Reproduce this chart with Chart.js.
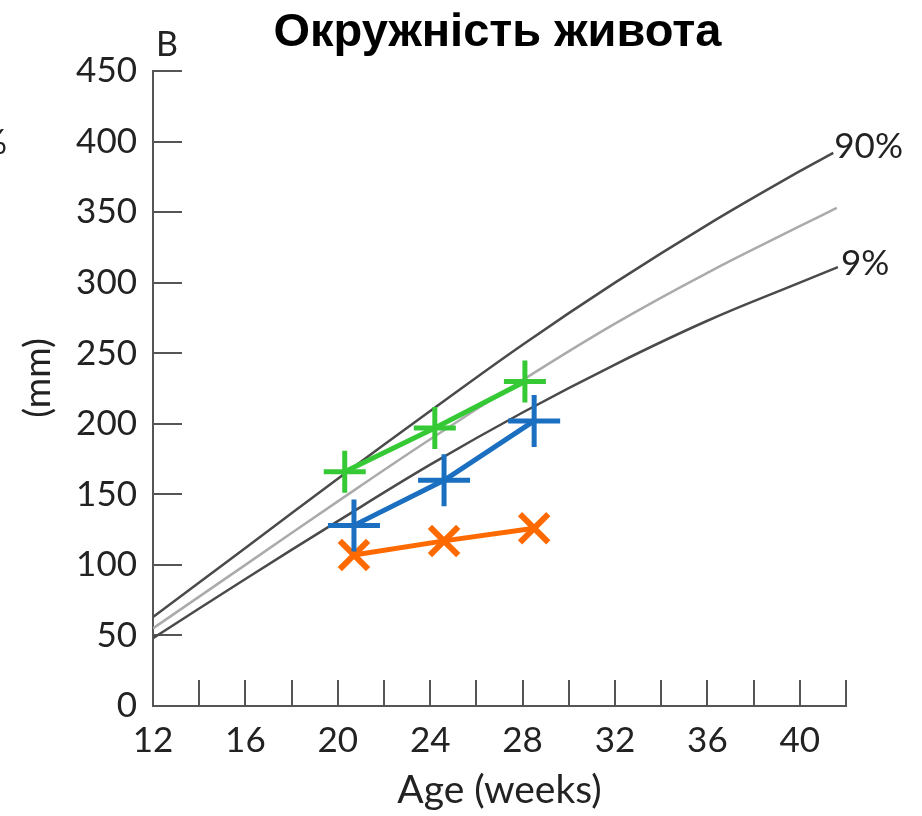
<!DOCTYPE html>
<html>
<head>
<meta charset="utf-8">
<script src="https://cdn.jsdelivr.net/npm/chart.js@4.4.1/dist/chart.umd.min.js"></script>
<style>
  html, body { margin: 0; padding: 0; background: #fff; }
</style>
</head>
<body>
<canvas id="bellyChart" width="922" height="816"></canvas>
<script>
// percentile curves (weeks / mm)
const weeks90 = [12, 16, 20, 24, 28, 32, 36, 40, 41.45];
const p90 = [63, 112, 161, 209, 256, 300, 341, 379, 392];
const weeks50 = [12, 16, 20, 24, 28, 32, 36, 40, 41.6];
const p50 = [55, 100, 145, 189, 231, 271, 307, 340, 353];
const weeks9 = [12, 16, 20, 24, 28, 32, 36, 40, 41.65];
const p9 = [48, 90, 131, 171, 208, 242, 273, 300, 311];

// measurements
const greenWeeks = [20.3, 24.2, 28.1];
const greenVals = [166, 197, 230];
const blueWeeks = [20.7, 24.6, 28.5];
const blueVals = [128, 160, 202];
const orangeWeeks = [20.7, 24.6, 28.5];
const orangeVals = [107, 117, 126];

// axes
const xTickValues = [12, 14, 16, 18, 20, 22, 24, 26, 28, 30, 32, 34, 36, 38, 40, 42];
const xLabelValues = [12, 16, 20, 24, 28, 32, 36, 40];
const yTickValues = [0, 50, 100, 150, 200, 250, 300, 350, 400, 450];

const chartTitle = "Окружність живота";
const labelFont = '"Lato", "Open Sans", sans-serif';

const toXY = (xs, ys) => xs.map((x, i) => ({ x: x, y: ys[i] }));

// ticks inside the plot + extra text
const extras = {
  id: "extras",
  beforeDatasetsDraw(chart) {
    const { ctx, chartArea, scales: { x, y } } = chart;
    ctx.save();
    ctx.strokeStyle = "#555";
    ctx.lineWidth = 2;
    ctx.beginPath();
    yTickValues.slice(1).forEach(v => {
      const py = Math.round(y.getPixelForValue(v));
      ctx.moveTo(chartArea.left, py);
      ctx.lineTo(chartArea.left + 29, py);
    });
    xTickValues.slice(1).forEach(v => {
      const px = Math.round(x.getPixelForValue(v));
      ctx.moveTo(px, chartArea.bottom);
      ctx.lineTo(px, chartArea.bottom - 26);
    });
    ctx.stroke();
    ctx.restore();
  },
  afterDraw(chart) {
    const { ctx, chartArea, scales: { x, y } } = chart;
    ctx.save();
    ctx.fillStyle = "#000";
    ctx.font = 'bold 47px "Liberation Sans", Arial, sans-serif';
    ctx.textAlign = "center";
    ctx.textBaseline = "alphabetic";
    ctx.fillText(chartTitle, (chartArea.left + chartArea.right) / 2 - 2, 46);

    ctx.fillStyle = "#222";
    ctx.font = "35px " + labelFont;
    ctx.textAlign = "left";
    ctx.textBaseline = "middle";
    const e90 = p90.length - 1;
    ctx.fillText("90%", x.getPixelForValue(weeks90[e90]) + 1, y.getPixelForValue(p90[e90]) - 6);
    const e9 = p9.length - 1;
    ctx.fillText("9%", x.getPixelForValue(weeks9[e9]) + 3, y.getPixelForValue(p9[e9]) - 3);

    ctx.font = "34px " + labelFont;
    ctx.textBaseline = "alphabetic";
    ctx.fillText("B", chartArea.left + 3, 56);

    // y title drawn here so it can sit where the original has it
    ctx.save();
    ctx.font = "37px " + labelFont;
    ctx.textAlign = "center";
    ctx.textBaseline = "middle";
    ctx.translate(38, 378);
    ctx.rotate(-Math.PI / 2);
    ctx.fillText("(mm)", 0, 0);
    ctx.restore();

    ctx.font = "34px " + labelFont;
    ctx.textAlign = "right";
    ctx.textBaseline = "middle";
    ctx.fillText("%", 7, 143);
    ctx.restore();
  }
};

new Chart(document.getElementById("bellyChart"), {
  type: "line",
  data: {
    datasets: [
      {
        label: "green",
        data: toXY(greenWeeks, greenVals),
        borderColor: "#36c936",
        borderWidth: 5,
        pointStyle: "cross",
        pointRadius: 21,
        pointBorderWidth: 5,
        pointBorderColor: "#36c936",
        clip: false
      },
      {
        label: "blue",
        data: toXY(blueWeeks, blueVals),
        borderColor: "#1a6fc0",
        borderWidth: 5,
        pointStyle: "cross",
        pointRadius: 26,
        pointBorderWidth: 5,
        pointBorderColor: "#1a6fc0",
        clip: false
      },
      {
        label: "orange",
        data: toXY(orangeWeeks, orangeVals),
        borderColor: "#ff6a00",
        borderWidth: 5,
        pointStyle: "crossRot",
        pointRadius: 20,
        pointBorderWidth: 6,
        pointBorderColor: "#ff6a00",
        clip: false
      },
      {
        label: "90%",
        data: toXY(weeks90, p90),
        borderColor: "#4a4a4a",
        borderWidth: 2.5,
        pointRadius: 0,
        tension: 0.4
      },
      {
        label: "50%",
        data: toXY(weeks50, p50),
        borderColor: "#ababab",
        borderWidth: 2.5,
        pointRadius: 0,
        tension: 0.4
      },
      {
        label: "9%",
        data: toXY(weeks9, p9),
        borderColor: "#4a4a4a",
        borderWidth: 2.5,
        pointRadius: 0,
        tension: 0.4
      }
    ]
  },
  options: {
    responsive: false,
    animation: false,
    events: [],
    layout: { padding: { top: 71, right: 76, bottom: 0, left: 0 } },
    plugins: {
      legend: { display: false },
      tooltip: { enabled: false },
      title: { display: false }
    },
    scales: {
      x: {
        type: "linear",
        min: 12,
        max: 42,
        afterFit: s => { s.height = 110; },
        afterBuildTicks: s => { s.ticks = xTickValues.map(v => ({ value: v })); },
        grid: { display: false, drawTicks: false },
        border: { display: true, color: "#555", width: 2 },
        ticks: {
          autoSkip: false,
          maxRotation: 0,
          padding: 14,
          color: "#222",
          font: { family: labelFont, size: 35 },
          callback: v => xLabelValues.includes(v) ? String(v) : ""
        },
        title: {
          display: true,
          text: "Age (weeks)",
          color: "#222",
          font: { family: labelFont, size: 39 },
          padding: { top: 0, bottom: 2 }
        }
      },
      y: {
        type: "linear",
        min: 0,
        max: 450,
        afterFit: s => { s.width = 153; },
        afterBuildTicks: s => { s.ticks = yTickValues.map(v => ({ value: v })); },
        grid: { display: false, drawTicks: false },
        border: { display: true, color: "#555", width: 2 },
        ticks: {
          padding: 16,
          color: "#222",
          font: { family: labelFont, size: 35 }
        },
        title: { display: false }
      }
    }
  },
  plugins: [extras]
});
</script>
</body>
</html>
